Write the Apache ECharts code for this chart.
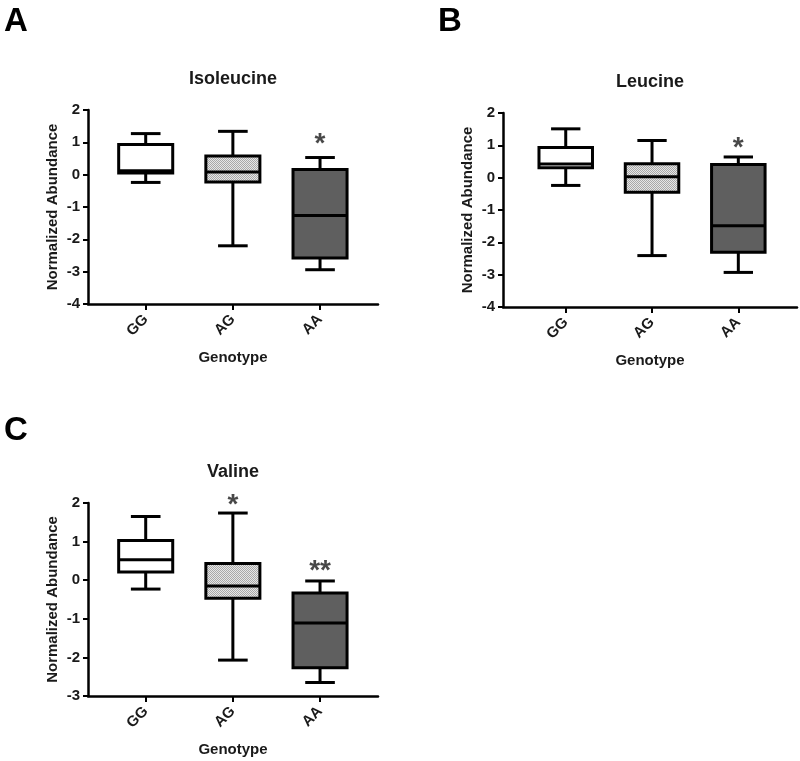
<!DOCTYPE html>
<html>
<head>
<meta charset="utf-8">
<script src="https://cdn.jsdelivr.net/npm/echarts@6/dist/echarts.min.js"></script>
<style>html,body{margin:0;padding:0;background:#fff}#c{width:800px;height:761px}</style>
</head>
<body>
<div id="c"></div>
<script>
// ---- data ----
const categories = ['GG', 'AG', 'AA'];
// [min, Q1, median, Q3, max]
const isoleucine = [[-0.24, 0.05, 0.12, 0.93, 1.27], [-2.2, -0.23, 0.08, 0.58, 1.34], [-2.94, -2.58, -1.26, 0.16, 0.53]];
const leucine    = [[-0.24, 0.31, 0.42, 0.93, 1.51], [-2.41, -0.45, 0.03, 0.43, 1.15], [-2.93, -2.31, -1.49, 0.41, 0.64]];
const valine     = [[-0.23, 0.21, 0.53, 1.03, 1.65], [-2.07, -0.47, -0.15, 0.43, 1.74], [-2.65, -2.27, -1.11, -0.33, -0.02]];
const isoStars = [[2, 1.17, '*']];
const leuStars = [[2, 1.11, '*']];
const valStars = [[1, 2.12, '*'], [2, 0.41, '**']];

const FONT = '"Liberation Sans", Arial, sans-serif';

// pattern for AG
const pc = document.createElement('canvas');
pc.width = 4; pc.height = 4;
const pctx = pc.getContext('2d');
pctx.fillStyle = '#e6e6e6'; pctx.fillRect(0, 0, 4, 4);
pctx.fillStyle = '#a8a8a8';
pctx.fillRect(0, 0, 1, 1); pctx.fillRect(2, 0, 1, 1);
pctx.fillRect(1, 1, 1, 1); pctx.fillRect(3, 1, 1, 1);
pctx.fillRect(0, 2, 1, 1); pctx.fillRect(2, 2, 1, 1);
pctx.fillRect(1, 3, 1, 1); pctx.fillRect(3, 3, 1, 1);
const fills = ['#ffffff', { image: pc, repeat: 'repeat' }, '#5f5f5f'];

function renderBox(params, api) {
  const x = api.value(0);
  const bw = api.size([1, 0])[0];
  const half = bw * 0.31, cap = bw * 0.17;
  const pMin = api.coord([x, api.value(1)]);
  const pQ1 = api.coord([x, api.value(2)]);
  const pMed = api.coord([x, api.value(3)]);
  const pQ3 = api.coord([x, api.value(4)]);
  const pMax = api.coord([x, api.value(5)]);
  const cx = pMin[0];
  const ls = { stroke: '#000', lineWidth: 3 };
  return {
    type: 'group',
    children: [
      { type: 'line', shape: { x1: cx, y1: pMax[1], x2: cx, y2: pQ3[1] }, style: ls },
      { type: 'line', shape: { x1: cx, y1: pQ1[1], x2: cx, y2: pMin[1] }, style: ls },
      { type: 'line', shape: { x1: cx - cap, y1: pMax[1], x2: cx + cap, y2: pMax[1] }, style: ls },
      { type: 'line', shape: { x1: cx - cap, y1: pMin[1], x2: cx + cap, y2: pMin[1] }, style: ls },
      { type: 'rect', shape: { x: cx - half, y: pQ3[1], width: half * 2, height: pQ1[1] - pQ3[1] },
        style: { fill: fills[x], stroke: '#000', lineWidth: 3 } },
      { type: 'line', shape: { x1: cx - half, y1: pMed[1], x2: cx + half, y2: pMed[1] }, style: ls }
    ]
  };
}

const grids = [
  { left: 88, top: 110, width: 290, height: 194 },
  { left: 503, top: 113, width: 294, height: 194 },
  { left: 88, top: 503, width: 290, height: 193 }
];
const xr = [[-0.662, 2.665], [-0.727, 2.68], [-0.662, 2.665]];
const yr = [[-4, 2], [-4, 2], [-3, 2]];

const xAxes = grids.map((g, i) => ({
  type: 'value', gridIndex: i, min: xr[i][0], max: xr[i][1],
  name: 'Genotype', nameLocation: 'middle', nameGap: 46,
  nameTextStyle: { fontFamily: FONT, fontWeight: 'bold', fontSize: 15, color: '#1a1a1a' },
  splitLine: { show: false },
  axisLine: { onZero: false, lineStyle: { color: '#000', width: 2.5 } },
  axisTick: { show: true, customValues: [0, 1, 2], length: 6, lineStyle: { color: '#000', width: 2 } },
  axisLabel: { customValues: [0, 1, 2], rotate: 45, margin: 13, formatter: v => categories[Math.round(v)],
    fontFamily: FONT, fontWeight: 'bold', fontSize: 15, color: '#1a1a1a' }
}));
const yAxes = grids.map((g, i) => ({
  type: 'value', gridIndex: i, min: yr[i][0], max: yr[i][1], interval: 1,
  name: 'Normalized Abundance', nameLocation: 'middle', nameGap: 28, nameRotate: 90,
  nameTextStyle: { fontFamily: FONT, fontWeight: 'bold', fontSize: 15, color: '#1a1a1a' },
  splitLine: { show: false },
  axisLine: { show: true, onZero: false, lineStyle: { color: '#000', width: 2.5 } },
  axisTick: { show: true, length: 5, lineStyle: { color: '#000', width: 2 } },
  axisLabel: { margin: 8, fontFamily: FONT, fontWeight: 'bold', fontSize: 15, color: '#1a1a1a' }
}));

const datasets = [isoleucine, leucine, valine];
const stars = [isoStars, leuStars, valStars];
const series = [];
datasets.forEach((d, i) => {
  series.push({
    type: 'custom', xAxisIndex: i, yAxisIndex: i, renderItem: renderBox, clip: false,
    encode: { x: 0, y: [1, 2, 3, 4, 5] },
    data: d.map((v, k) => [k, ...v]), z: 3
  });
  series.push({
    type: 'scatter', xAxisIndex: i, yAxisIndex: i, symbolSize: 0, silent: true, clip: false,
    data: stars[i].map(s => ({ value: [s[0], s[1]], label: { formatter: s[2] } })),
    label: { show: true, position: 'inside', offset: [0, 7], fontFamily: FONT, fontWeight: 'bold', fontSize: 28, color: '#1a1a1a' }
  });
});

const titleStyle = { fontFamily: FONT, fontWeight: 'bold', fontSize: 18, color: '#1a1a1a' };
const letterStyle = { fontFamily: FONT, fontWeight: 'bold', fontSize: 33, color: '#000' };
const option = {
  backgroundColor: '#fff',
  animation: false,
  title: [
    { text: 'A', left: -1, top: 0, textStyle: letterStyle },
    { text: 'B', left: 433, top: 0, textStyle: letterStyle },
    { text: 'C', left: -1, top: 409, textStyle: letterStyle },
    { text: 'Isoleucine', left: 228, top: 65, textAlign: 'center', textStyle: titleStyle },
    { text: 'Leucine', left: 645, top: 68, textAlign: 'center', textStyle: titleStyle },
    { text: 'Valine', left: 228, top: 458, textAlign: 'center', textStyle: titleStyle }
  ],
  grid: grids,
  xAxis: xAxes,
  yAxis: yAxes,
  series: series
};
const chart = echarts.init(document.getElementById('c'), null, { renderer: 'canvas' });
chart.setOption(option);
</script>
</body>
</html>
